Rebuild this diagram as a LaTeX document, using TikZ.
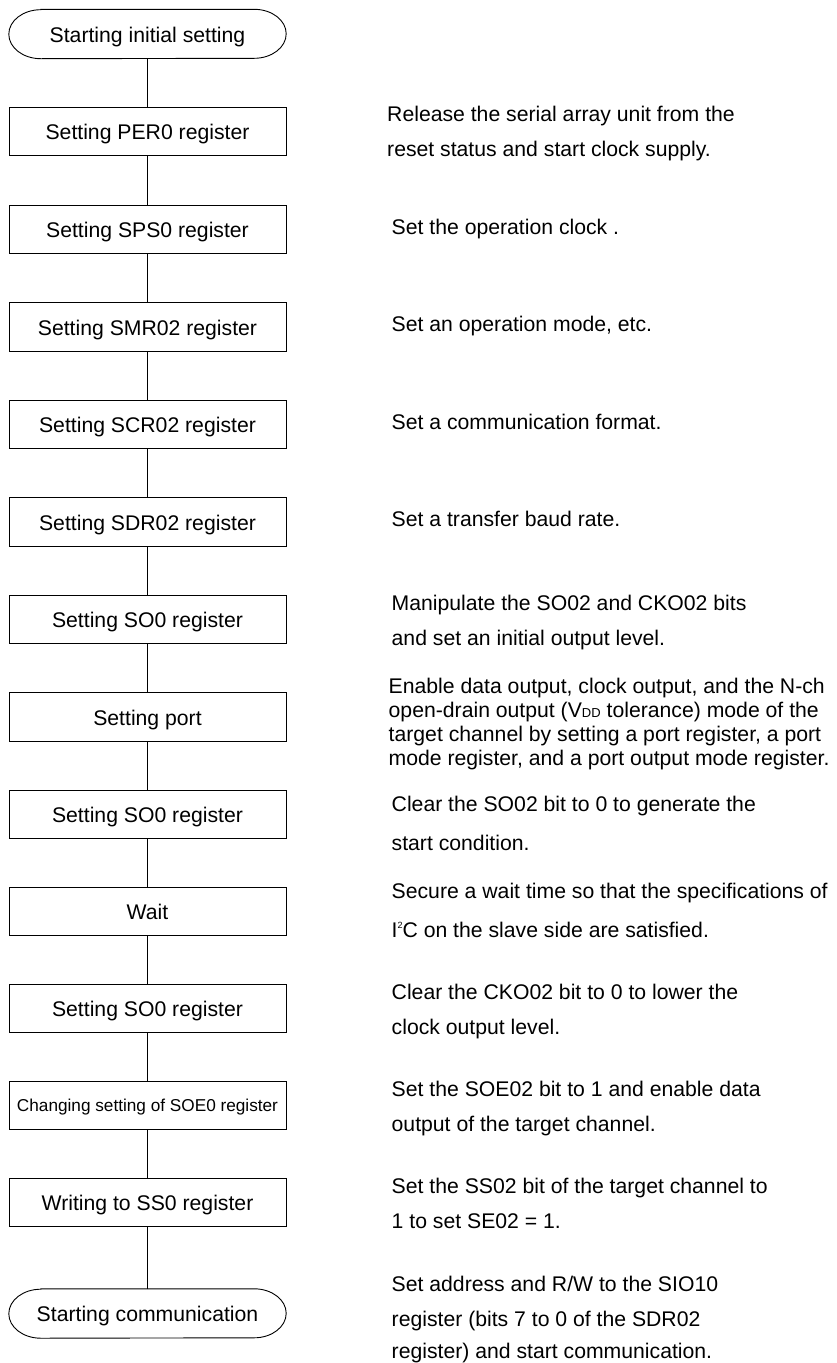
\documentclass[tikz,border=0pt]{standalone}
\usepackage{fontspec}
\setmainfont{Liberation Sans}
\begin{document}
\begin{tikzpicture}[x=1pt,y=-1pt,
  stepbox/.style={draw, line width=0.9pt, minimum width=277pt, minimum height=48.5pt, inner sep=0pt, text height=16pt, text depth=0pt, font=\fontsize{21.2}{25}\selectfont},
  termnode/.style={minimum width=277pt, minimum height=49pt, inner sep=0pt, text height=16pt, text depth=0pt, font=\fontsize{21.2}{25}\selectfont},
  termline/.style={line width=0.9pt},
  desc/.style={anchor=base west, inner sep=0pt, font=\fontsize{21.2}{25}\selectfont},
  link/.style={line width=0.9pt}]
\useasboundingbox (0,0) rectangle (837,1363);

% terminals
\node[termnode] (t0) at (147.5,34) {Starting initial setting};
\node[termnode] (t1) at (147.5,1313.5) {Starting communication};
\foreach \t in {t0,t1}{
  \draw[termline] ([xshift=32pt]\t.north west) -- ([xshift=-32pt]\t.north east)
    arc[start angle=90,end angle=-90,x radius=32pt,y radius=24.5pt]
    -- ([xshift=32pt]\t.south west)
    arc[start angle=270,end angle=90,x radius=32pt,y radius=24.5pt] -- cycle;
}

% process boxes
\node[stepbox] (b1) at (147.5,131.5) {Setting PER0 register};
\node[stepbox] (b2) at (147.5,229.5) {Setting SPS0 register};
\node[stepbox] (b3) at (147.5,327) {Setting SMR02 register};
\node[stepbox] (b4) at (147.5,424.5) {Setting SCR02 register};
\node[stepbox] (b5) at (147.5,522) {Setting SDR02 register};
\node[stepbox] (b6) at (147.5,619.5) {Setting SO0 register};
\node[stepbox] (b7) at (147.5,717) {Setting port};
\node[stepbox] (b8) at (147.5,814.5) {Setting SO0 register};
\node[stepbox] (b9) at (147.5,911.5) {Wait};
\node[stepbox] (b10) at (147.5,1008.5) {Setting SO0 register};
\node[stepbox, font=\fontsize{17.2}{20}\selectfont, text height=12.4pt] (b11) at (147.5,1105.5) {Changing setting of SOE0 register};
\node[stepbox] (b12) at (147.5,1202.5) {Writing to SS0 register};

% connectors
\draw[link] (t0) -- (b1);
\draw[link] (b1) -- (b2);
\draw[link] (b2) -- (b3);
\draw[link] (b3) -- (b4);
\draw[link] (b4) -- (b5);
\draw[link] (b5) -- (b6);
\draw[link] (b6) -- (b7);
\draw[link] (b7) -- (b8);
\draw[link] (b8) -- (b9);
\draw[link] (b9) -- (b10);
\draw[link] (b10) -- (b11);
\draw[link] (b11) -- (b12);
\draw[link] (b12) -- (t1);

% descriptions
\node[desc] (d1a) at (387,121.7) {Release the serial array unit from the};
\node[desc] (d1b) at (387,156.3) {reset status and start clock supply.};
\node[desc] (d2) at (391.5,234) {Set the operation clock .};
\node[desc] (d3) at (391.5,331.7) {Set an operation mode, etc.};
\node[desc] (d4) at (391.5,429) {Set a communication format.};
\node[desc] (d5) at (391.5,526) {Set a transfer baud rate.};
\node[desc] (d6a) at (391.5,610.7) {Manipulate the SO02 and CKO02 bits};
\node[desc] (d6b) at (391.5,645.7) {and set an initial output level.};
\node[desc] (d7a) at (388.5,693.3) {Enable data output, clock output, and the N-ch};
\node[desc] (d7b) at (388.5,717.3) {open-drain output (V{\fontsize{13}{13}\selectfont DD} tolerance) mode of the};
\node[desc] (d7c) at (388.5,741.3) {target channel by setting a port register, a port};
\node[desc] (d7d) at (388.5,765) {mode register, and a port output mode register.};
\node[desc] (d8a) at (391.5,811.7) {Clear the SO02 bit to 0 to generate the};
\node[desc] (d8b) at (391.5,850.7) {start condition.};
\node[desc] (d9a) at (391.5,898.3) {Secure a wait time so that the specifications of};
\node[desc] (d9b) at (391.5,937.3) {I\raisebox{9pt}{\fontsize{9}{9}\selectfont 2}C on the slave side are satisfied.};
\node[desc] (d10a) at (391.5,999) {Clear the CKO02 bit to 0 to lower the};
\node[desc] (d10b) at (391.5,1034) {clock output level.};
\node[desc] (d11a) at (391.5,1096.7) {Set the SOE02 bit to 1 and enable data};
\node[desc] (d11b) at (391.5,1131.7) {output of the target channel.};
\node[desc] (d12a) at (391.5,1193.3) {Set the SS02 bit of the target channel to};
\node[desc] (d12b) at (391.5,1228.3) {1 to set SE02 = 1.};
\node[desc] (d13a) at (391.5,1291) {Set address and R/W to the SIO10};
\node[desc] (d13b) at (391.5,1326) {register (bits 7 to 0 of the SDR02};
\node[desc] (d13c) at (391.5,1358.3) {register) and start communication.};
\end{tikzpicture}
\end{document}
